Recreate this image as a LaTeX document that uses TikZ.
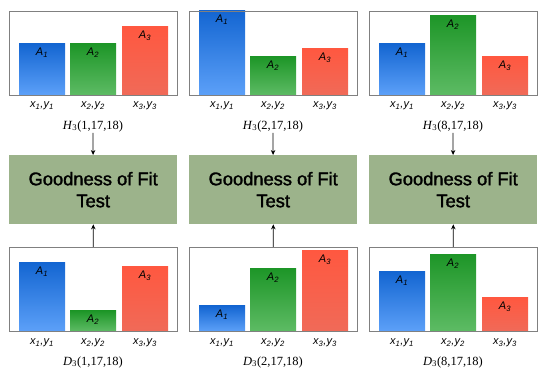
\documentclass[tikz,border=0pt]{standalone}
\usepackage{fontspec}
\setmainfont{Liberation Serif}
\setsansfont{Liberation Sans}
\newfontfamily\goffont{Liberation Sans}[RawFeature={embolden=1.6}]
\usetikzlibrary{arrows.meta,positioning}

\definecolor{gofgreen}{RGB}{156,179,139}
\definecolor{bar1top}{RGB}{20,102,210}
\definecolor{bar1bot}{RGB}{92,160,248}
\definecolor{bar2top}{RGB}{30,150,40}
\definecolor{bar2bot}{RGB}{93,187,100}
\definecolor{bar3top}{RGB}{255,88,64}
\definecolor{bar3bot}{RGB}{240,106,88}

\begin{document}
\begin{tikzpicture}[x=1pt, y=-1pt,
  frame/.style={draw=black!50, line width=0.9pt, minimum width=168pt,
                minimum height=84pt, inner sep=0pt, anchor=north west},
  gof/.style={fill=gofgreen, minimum width=168pt, minimum height=69pt,
              inner sep=0pt, align=center, anchor=north west,
              font=\goffont\fontsize{18.3}{22}\selectfont},
  barlbl/.style={font=\sffamily\itshape\fontsize{11}{11}\selectfont,
                 anchor=north, inner sep=1pt},
  axlbl/.style={font=\sffamily\itshape\fontsize{11}{11}\selectfont},
  caption/.style={font=\fontsize{12.5}{13}\selectfont, inner sep=1pt},
  every edge/.style={draw, line width=0.8pt, -{Stealth[length=5pt,width=4.5pt]}}
]
  \useasboundingbox (0,0) rectangle (550,377);

  % one column per test: left edge, H bar heights, D bar heights, first argument
  \foreach \col/\L/\ha/\hb/\hc/\da/\db/\dc/\n in
      {1/9/51/51/68/68/20/64/1, 2/189/84/38/46/25/62/80/2, 3/369/51/79/38/59/76/33/8} {
    % bars of H (top) and D (bottom)
    \foreach \i/\off/\h/\d in {1/10/\ha/\da, 2/61/\hb/\db, 3/113/\hc/\dc} {
      \shade[top color=bar\i top, bottom color=bar\i bot]
        (\L+\off,95) rectangle ++(46,-\h);
      \node[barlbl] (ha\col\i) at (\L+\off+23,95-\h+3) {A\textsubscript{\i}};
      \node[axlbl]  (hx\col\i) at (\L+\off+23,106) {x\textsubscript{\i},y\textsubscript{\i}};
      \shade[top color=bar\i top, bottom color=bar\i bot]
        (\L+\off,331) rectangle ++(46,-\d);
      \node[barlbl] (da\col\i) at (\L+\off+23,331-\d+3) {A\textsubscript{\i}};
      \node[axlbl]  (dx\col\i) at (\L+\off+23,343) {x\textsubscript{\i},y\textsubscript{\i}};
    }
    \node[frame] (h\col) at (\L,11) {};
    \node[frame] (d\col) at (\L,247) {};
    \node[caption] (hl\col) at (\L+84,126) {\textit{H}\textsubscript{3}(\n,17,18)};
    \node[caption] (dl\col) at (\L+84,362) {\textit{D}\textsubscript{3}(\n,17,18)};
    \node[gof] (gof\col) at (\L,155) {Goodness of Fit\\Test};

    \draw (hl\col) edge (gof\col);
    \draw (d\col)  edge (gof\col);
  }
\end{tikzpicture}
\end{document}
